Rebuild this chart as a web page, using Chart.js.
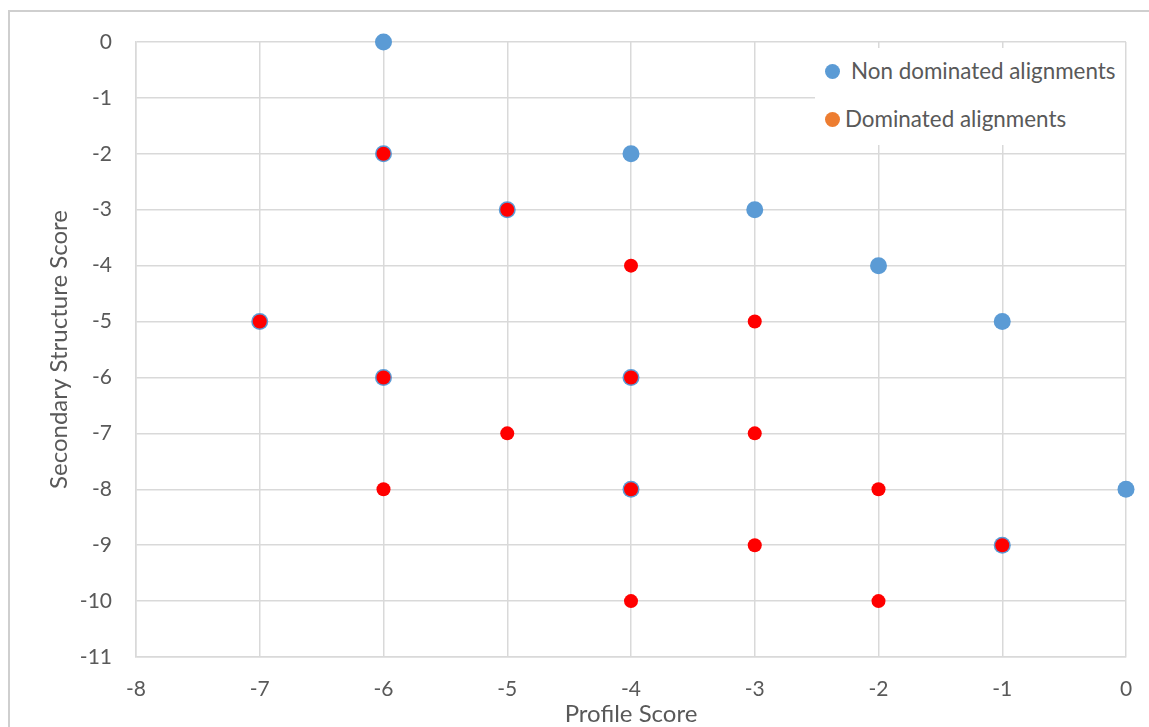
<!DOCTYPE html>
<html>
<head>
<meta charset="utf-8">
<script src="https://cdn.jsdelivr.net/npm/chart.js@4.4.1/dist/chart.umd.min.js"></script>
<style>
  html, body { margin: 0; padding: 0; background: #fff; }
  #wrap { position: relative; width: 1149px; height: 727px; overflow: hidden; }
  canvas { position: absolute; left: 0; top: 0; }
  #legend { position: absolute; left: 815px; top: 48px; width: 310px; height: 97px; background: #fff; z-index: 3;
            font-family: Lato, "Open Sans", sans-serif; font-size: 22.4px; color: #595959; }
  .item { position: absolute; white-space: nowrap; }
  .dot { position: absolute; width: 15px; height: 15px; border-radius: 50%; }
</style>
</head>
<body>
<div id="wrap">
  <canvas id="c" width="1149" height="727"></canvas>
  <div id="legend">
    <span class="dot" style="left:10px; top:16px; background:#5b9bd5"></span>
    <span class="item" style="left:36px; top:9px">Non dominated alignments</span>
    <span class="dot" style="left:10px; top:64px; background:#ed7d31"></span>
    <span class="item" style="left:30px; top:57px">Dominated alignments</span>
  </div>
</div>
<script>
// --- data ---
const nonDomX = [-6, -4, -3, -2, -1, 0, -6, -5, -7, -6, -4, -4, -1];
const nonDomY = [0, -2, -3, -4, -5, -8, -2, -3, -5, -6, -6, -8, -9];
const domX = [-6, -5, -7, -6, -4, -4, -1, -4, -3, -5, -3, -6, -2, -3, -4, -2];
const domY = [-2, -3, -5, -6, -6, -8, -9, -4, -5, -7, -7, -8, -8, -9, -10, -10];
const xTicks = [-8, -7, -6, -5, -4, -3, -2, -1, 0];
const yTicks = [0, -1, -2, -3, -4, -5, -6, -7, -8, -9, -10, -11];

const toPts = (xs, ys) => xs.map((x, i) => ({ x: x, y: ys[i] }));
const FONT = 'Lato, "Open Sans", sans-serif';
const GRID = '#d9d9d9';

// light outer frame of the chart object
const framePlugin = {
    id: 'frame',
    afterDraw(chart) {
        const ctx = chart.ctx;
        ctx.save();
        ctx.strokeStyle = '#cfcfcf';
        ctx.lineWidth = 2;
        ctx.beginPath();
        ctx.moveTo(9, 727);
        ctx.lineTo(9, 11);
        ctx.lineTo(1149, 11);
        ctx.stroke();
        ctx.restore();
    }
};

new Chart(document.getElementById('c').getContext('2d'), {
    type: 'scatter',
    data: {
        datasets: [{
            label: 'Dominated alignments',
            data: toPts(domX, domY),
            pointBackgroundColor: '#ff0000',
            pointBorderWidth: 0,
            pointRadius: 7,
            clip: false,
            order: 0
        }, {
            label: 'Non dominated alignments',
            data: toPts(nonDomX, nonDomY),
            pointBackgroundColor: '#5b9bd5',
            pointBorderWidth: 0,
            pointRadius: 8.5,
            clip: false,
            order: 1
        }]
    },
    plugins: [framePlugin],
    options: {
        responsive: false,
        animation: false,
        layout: { padding: { left: 0, top: 42, right: 23, bottom: 0 } },
        plugins: { legend: { display: false }, tooltip: { enabled: false } },
        scales: {
            x: {
                min: -8, max: 0,
                afterBuildTicks: s => { s.ticks = xTicks.map(v => ({ value: v })); },
                afterFit: s => { s.height = 70; s.paddingRight = 0; s.paddingLeft = 0; },
                grid: { color: GRID, lineWidth: 1.5, drawTicks: false },
                border: { color: GRID, width: 1.5 },
                ticks: { padding: 20, color: '#595959', font: { family: FONT, size: 21 } },
                title: { display: true, text: 'Profile Score', color: '#595959', font: { family: FONT, size: 24 }, padding: { top: 0, bottom: -2 } }
            },
            y: {
                min: -11, max: 0,
                afterBuildTicks: s => { s.ticks = yTicks.map(v => ({ value: v })); },
                afterFit: s => { s.width = 136; s.paddingTop = 0; s.paddingBottom = 0; },
                grid: { color: GRID, lineWidth: 1.5, drawTicks: false },
                border: { color: GRID, width: 1.5 },
                ticks: { padding: 24, color: '#595959', font: { family: FONT, size: 21 } },
                title: { display: true, text: 'Secondary Structure Score', color: '#595959', font: { family: FONT, size: 24 }, padding: { top: 45, bottom: 0 } }
            }
        }
    }
});
</script>
</body>
</html>
